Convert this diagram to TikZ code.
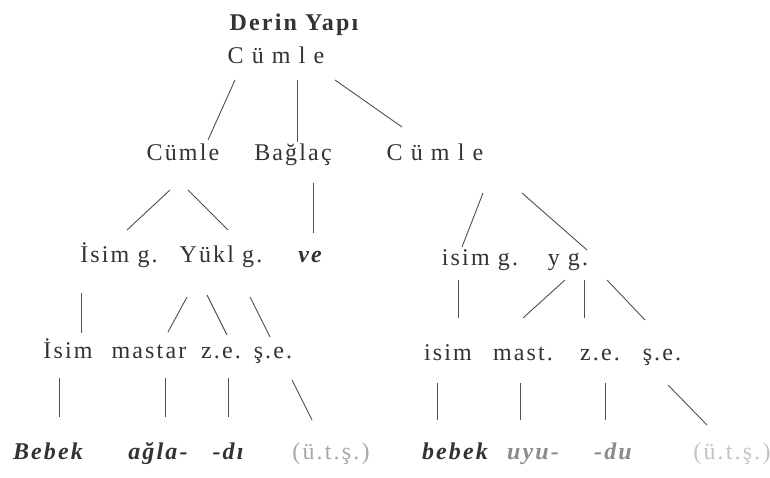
\documentclass[tikz,border=0pt]{standalone}
\usepackage{fontspec}
\setmainfont{Liberation Serif}[LetterSpace=9]
\usetikzlibrary{calc}
\definecolor{ink}{HTML}{333333}
\definecolor{lineink}{HTML}{505050}
\definecolor{midgray}{HTML}{8C8C8C}
\definecolor{lightgray}{HTML}{A8A8A8}
\definecolor{palegray}{HTML}{C4C4C4}
\tikzset{
  lbl/.style={inner sep=0pt, anchor=base, text=ink, font=\fontsize{24}{28}\selectfont},
  word/.style={lbl, font=\fontsize{24}{28}\selectfont\bfseries\itshape},
  edge/.style={draw=lineink, line width=0.9pt},
}
\begin{document}
\begin{tikzpicture}[x=1pt,y=-1pt]
\useasboundingbox[fill=white] (0,0) rectangle (770,478);
% level 0/1
\node[lbl, font=\fontsize{24}{28}\selectfont\bfseries] (dy) at (294,31) {Derin Yapı};
\node[lbl] (c0) at (276,64) {C ü m l e};
% level 2
\node[lbl] (c1) at (183,161) {Cümle};
\node[lbl] (bg) at (293,161) {Bağlaç};
\node[lbl] (c2) at (435,161) {C ü m l e};
% level 3
\node[lbl] (ig1) at (119,262) {İsim g.};
\node[lbl] (yg1) at (221,262) {Yükl g.};
\node[word] (ve) at (310,262) {ve};
\node[lbl] (ig2) at (480,265) {isim g.};
\node[lbl] (yg2) at (568,265) {y g.};
% level 4
\node[lbl] (is1) at (68,358) {İsim};
\node[lbl] (ms1) at (149,358) {mastar};
\node[lbl] (ze1) at (221,358) {z.e.};
\node[lbl] (se1) at (273,358) {ş.e.};
\node[lbl] (is2) at (448,360) {isim};
\node[lbl] (ms2) at (523,360) {mast.};
\node[lbl] (ze2) at (600,360) {z.e.};
\node[lbl] (se2) at (662,360) {ş.e.};
% level 5
\node[word] (b1) at (48,459) {Bebek};
\node[word] (a1) at (158,459) {ağla-};
\node[word] (d1) at (228,459) {-dı};
\node[lbl, text=lightgray] (u1) at (331,459) {(ü.t.ş.)};
\node[word] (b2) at (455,459) {bebek};
\node[word, text=midgray] (uy2) at (533,459) {uyu-};
\node[word, text=midgray] (d2) at (613,459) {-du};
\node[lbl, text=palegray] (u2) at (732,459) {(ü.t.ş.)};
% connectors
\draw[edge] ($(c0.base)+(-41,16)$) -- ($(c1.base)+(25,-21)$);
\draw[edge] ($(c0.base)+(21,16)$) -- ($(bg.base)+(4,-19)$);
\draw[edge] ($(c0.base)+(59,16)$) -- ($(c2.base)+(-33,-34)$);
\draw[edge] ($(c1.base)+(-13,29)$) -- ($(ig1.base)+(8,-32)$);
\draw[edge] ($(c1.base)+(5,29)$) -- ($(yg1.base)+(7,-32)$);
\draw[edge] ($(bg.base)+(20,22)$) -- ($(ve.base)+(3,-29)$);
\draw[edge] ($(c2.base)+(48,32)$) -- ($(ig2.base)+(-18,-18)$);
\draw[edge] ($(c2.base)+(87,32)$) -- ($(yg2.base)+(19,-15)$);
\draw[edge] ($(ig1.base)+(-38,31)$) -- ($(is1.base)+(13,-25)$);
\draw[edge] ($(yg1.base)+(-34,35)$) -- ($(ms1.base)+(19,-26)$);
\draw[edge] ($(yg1.base)+(-14,33)$) -- ($(ze1.base)+(6,-23)$);
\draw[edge] ($(yg1.base)+(29,35)$) -- ($(se1.base)+(-3,-21)$);
\draw[edge] ($(ig2.base)+(-22,15)$) -- ($(is2.base)+(10,-42)$);
\draw[edge] ($(yg2.base)+(-3,15)$) -- ($(ms2.base)+(0,-42)$);
\draw[edge] ($(yg2.base)+(16,15)$) -- ($(ze2.base)+(-16,-42)$);
\draw[edge] ($(yg2.base)+(39,15)$) -- ($(se2.base)+(-17,-40)$);
\draw[edge] ($(is1.base)+(-9,20)$) -- ($(b1.base)+(11,-42)$);
\draw[edge] ($(ms1.base)+(16,20)$) -- ($(a1.base)+(7,-42)$);
\draw[edge] ($(ze1.base)+(7,20)$) -- ($(d1.base)+(0,-42)$);
\draw[edge] ($(se1.base)+(19,22)$) -- ($(u1.base)+(-19,-39)$);
\draw[edge] ($(is2.base)+(-11,23)$) -- ($(b2.base)+(-18,-39)$);
\draw[edge] ($(ms2.base)+(-3,23)$) -- ($(uy2.base)+(-13,-39)$);
\draw[edge] ($(ze2.base)+(5,23)$) -- ($(d2.base)+(-8,-39)$);
\draw[edge] ($(se2.base)+(6,25)$) -- ($(u2.base)+(-25,-34)$);
\end{tikzpicture}
\end{document}
